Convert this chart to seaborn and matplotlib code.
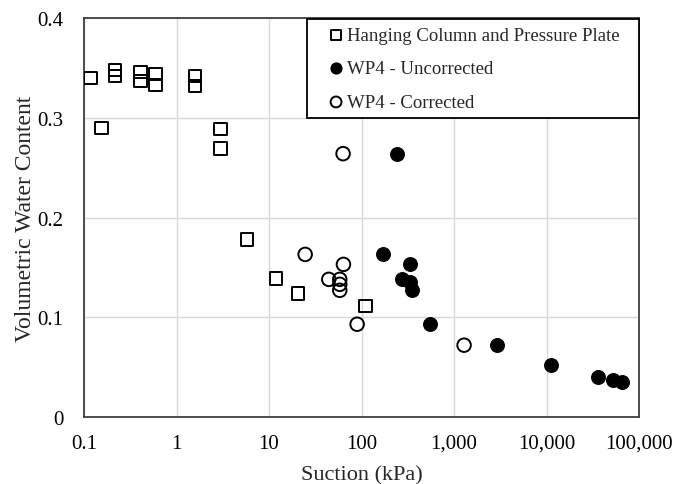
import matplotlib
matplotlib.use("Agg")
import matplotlib.pyplot as plt
import seaborn as sns
import pandas as pd
from matplotlib.ticker import FixedLocator, FixedFormatter, NullLocator

# Data
hc_suction = [0.118, 0.155, 0.215, 0.215, 0.41, 0.41, 0.59, 0.59, 1.58, 1.58,
              2.99, 2.99, 5.75, 11.9, 20.6, 110]
hc_theta = [0.340, 0.290, 0.348, 0.342, 0.346, 0.337, 0.344, 0.333, 0.342, 0.332,
            0.289, 0.269, 0.178, 0.139, 0.124, 0.111]

unc_suction = [241, 171, 336, 277, 336, 355, 548, 2925, 11300, 36100, 52500, 66000]
unc_theta = [0.264, 0.163, 0.153, 0.138, 0.135, 0.127, 0.093, 0.072, 0.052, 0.040, 0.037, 0.035]

cor_suction = [63.2, 24.6, 63.8, 44.3, 58.2, 58.2, 58.2, 89.7, 1285]
cor_theta = [0.264, 0.163, 0.153, 0.138, 0.138, 0.133, 0.127, 0.093, 0.072]

x_ticks = [0.1, 1, 10, 100, 1000, 10000, 100000]
x_tick_labels = ["0.1", "1", "10", "100", "1,000", "10,000", "100,000"]
y_ticks = [0, 0.1, 0.2, 0.3, 0.4]
y_tick_labels = ["0", "0.1", "0.2", "0.3", "0.4"]

labels = ["Hanging Column and Pressure Plate", "WP4 - Uncorrected", "WP4 - Corrected"]

sns.set_style("white")
plt.rcParams["font.family"] = ["Liberation Serif", "DejaVu Serif"]

fig = plt.figure(figsize=(6.75, 4.85), dpi=100)
ax = fig.add_axes([84 / 675, 1 - 418 / 485, (639 - 84) / 675, (418 - 19) / 485])

df_hc = pd.DataFrame({"x": hc_suction, "y": hc_theta})
df_unc = pd.DataFrame({"x": unc_suction, "y": unc_theta})
df_cor = pd.DataFrame({"x": cor_suction, "y": cor_theta})

sns.scatterplot(data=df_hc, x="x", y="y", ax=ax, marker="s", s=80,
                facecolor="none", edgecolor="black", linewidth=1.4,
                label=labels[0], zorder=3)
sns.scatterplot(data=df_unc, x="x", y="y", ax=ax, marker="o", s=95,
                color="black", edgecolor="black", linewidth=1.0,
                label=labels[1], zorder=3)
sns.scatterplot(data=df_cor, x="x", y="y", ax=ax, marker="o", s=95,
                facecolor="none", edgecolor="black", linewidth=1.4,
                label=labels[2], zorder=3)

ax.set_xscale("log")
ax.set_xlim(0.1, 100000)
ax.set_ylim(0, 0.4)
ax.xaxis.set_major_locator(FixedLocator(x_ticks))
ax.xaxis.set_major_formatter(FixedFormatter(x_tick_labels))
ax.xaxis.set_minor_locator(NullLocator())
ax.yaxis.set_major_locator(FixedLocator(y_ticks))
ax.yaxis.set_major_formatter(FixedFormatter(y_tick_labels))

ax.grid(True, color="#d9d9d9", linewidth=1.0, zorder=0)
ax.set_axisbelow(True)
for sp in ax.spines.values():
    sp.set_color("#404040")
    sp.set_linewidth(1.3)
ax.tick_params(axis="both", length=0, labelsize=15, colors="black")
ax.tick_params(axis="x", pad=12)
ax.tick_params(axis="y", pad=15)

ax.set_xlabel("Suction (kPa)", fontsize=16, labelpad=9)
ax.set_ylabel("Volumetric Water Content", fontsize=17, labelpad=0.5)

leg = ax.legend(loc="upper right", bbox_to_anchor=(0.4018, 0.0, 0.5982, 0.9975),
                mode="expand", fontsize=13.5,
                frameon=True, fancybox=False, borderaxespad=0,
                handletextpad=-0.56, handlelength=2.3, labelspacing=0.88,
                borderpad=0.4, markerscale=0.8)
leg.get_frame().set_edgecolor("black")
leg.get_frame().set_linewidth(1.3)
leg.get_frame().set_alpha(1.0)

fig.savefig("out.png", dpi=100)
